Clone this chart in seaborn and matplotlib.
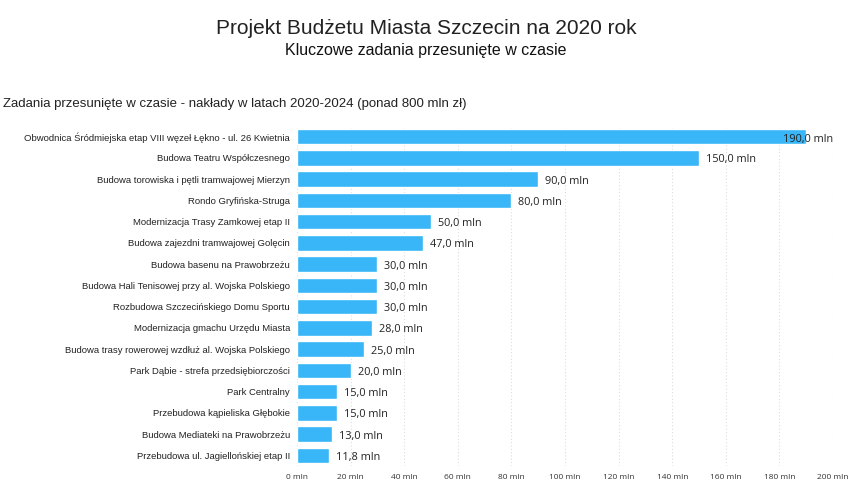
import matplotlib
matplotlib.use("Agg")
import matplotlib.pyplot as plt
import seaborn as sns
import pandas as pd

categories = [
    "Obwodnica Śródmiejska etap VIII węzeł Łękno - ul. 26 Kwietnia",
    "Budowa Teatru Współczesnego",
    "Budowa torowiska i pętli tramwajowej Mierzyn",
    "Rondo Gryfińska-Struga",
    "Modernizacja Trasy Zamkowej etap II",
    "Budowa zajezdni tramwajowej Golęcin",
    "Budowa basenu na Prawobrzeżu",
    "Budowa Hali Tenisowej przy al. Wojska Polskiego",
    "Rozbudowa Szczecińskiego Domu Sportu",
    "Modernizacja gmachu Urzędu Miasta",
    "Budowa trasy rowerowej wzdłuż al. Wojska Polskiego",
    "Park Dąbie - strefa przedsiębiorczości",
    "Park Centralny",
    "Przebudowa kąpieliska Głębokie",
    "Budowa Mediateki na Prawobrzeżu",
    "Przebudowa ul. Jagiellońskiej etap II",
]
values = [190.0, 150.0, 90.0, 80.0, 50.0, 47.0, 30.0, 30.0, 30.0, 28.0, 25.0, 20.0, 15.0, 15.0, 13.0, 11.8]
xticks = [0, 20, 40, 60, 80, 100, 120, 140, 160, 180, 200]

df = pd.DataFrame({"task": categories, "value": values})

sns.set_theme(style="white")
plt.rcParams['font.family'] = ['Liberation Sans', 'DejaVu Sans']

fig = plt.figure(figsize=(8.52, 4.87), dpi=100)
ax = fig.add_axes([297/852, 1 - 466/487, (833 - 297)/852, (466 - 126)/487])

sns.barplot(data=df, x="value", y="task", color="#38B6F7", width=0.72,
            saturation=1, ax=ax, zorder=3)

ax.set_xlim(0, 200)
ax.set_ylim(15.5, -0.5)
ax.set_xticks(xticks)
ax.set_xticklabels([f"{t} mln" for t in xticks], fontsize=6, color="#333333",
                   family=['Open Sans', 'DejaVu Sans'])
ax.tick_params(axis='x', length=0, pad=6)
ax.tick_params(axis='y', length=0, pad=5, labelsize=6.8, labelcolor="#222222")
ax.set_xlabel("")
ax.set_ylabel("")
for s in ax.spines.values():
    s.set_visible(False)
ax.grid(axis='x', color="#dddddd", linestyle=(0, (1, 2)), linewidth=0.8, zorder=0)
ax.grid(axis='y', visible=False)

for i, v in enumerate(values):
    txt = f"{v:.1f}".replace(".", ",") + " mln"
    if v >= 180:
        ax.annotate(txt, xy=(200, i), xytext=(0, -2), textcoords="offset points",
                    ha="right", va="center", fontsize=7.8, color="#222222",
                    family=['Open Sans', 'DejaVu Sans'], zorder=5, annotation_clip=False)
    else:
        ax.annotate(txt, xy=(v, i), xytext=(5, -1.5), textcoords="offset points",
                    ha="left", va="center", fontsize=7.8, color="#222222",
                    family=['Open Sans', 'DejaVu Sans'], zorder=5)

fig.text(0.5, 1 - 28/487, "Projekt Budżetu Miasta Szczecin na 2020 rok", ha="center", va="center",
         fontsize=15, color="#222222")
fig.text(0.5, 1 - 50/487, "Kluczowe zadania przesunięte w czasie", ha="center", va="center",
         fontsize=11.5, color="#111111")
fig.text(3/852, 1 - 104/487, "Zadania przesunięte w czasie - nakłady w latach 2020-2024 (ponad 800 mln zł)",
         ha="left", va="center", fontsize=9.5, color="#222222")

fig.savefig("out.png", dpi=100, facecolor="white")
